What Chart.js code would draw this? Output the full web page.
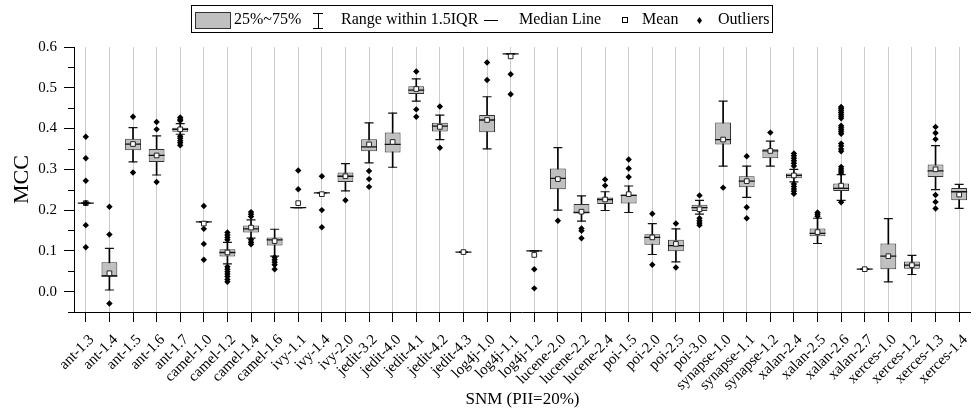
<!DOCTYPE html>
<html>
<head>
<meta charset="utf-8">
<title>MCC box plot</title>
<script src="https://cdn.jsdelivr.net/npm/chart.js@4.4.1/dist/chart.umd.min.js"></script>
<style>
  html, body { margin: 0; padding: 0; background: #fff; overflow: hidden; }
  #wrap { width: 981px; height: 408px; position: relative; }
</style>
</head>
<body>
<div id="wrap"><canvas id="boxChart"></canvas></div>
<script>
const projects = ['ant-1.3', 'ant-1.4', 'ant-1.5', 'ant-1.6', 'ant-1.7', 'camel-1.0', 'camel-1.2', 'camel-1.4', 'camel-1.6',
  'ivy-1.1', 'ivy-1.4', 'ivy-2.0', 'jedit-3.2', 'jedit-4.0', 'jedit-4.1', 'jedit-4.2', 'jedit-4.3',
  'log4j-1.0', 'log4j-1.1', 'log4j-1.2', 'lucene-2.0', 'lucene-2.2', 'lucene-2.4',
  'poi-1.5', 'poi-2.0', 'poi-2.5', 'poi-3.0', 'synapse-1.0', 'synapse-1.1', 'synapse-1.2',
  'xalan-2.4', 'xalan-2.5', 'xalan-2.6', 'xalan-2.7', 'xerces-1.0', 'xerces-1.2', 'xerces-1.3', 'xerces-1.4'];

const whiskerLow = [0.217, 0.004, 0.318, 0.286, 0.386, 0.171, 0.068, 0.131, 0.087,
  0.206, 0.242, 0.247, 0.316, 0.305, 0.467, 0.373, 0.097,
  0.350, 0.583, 0.100, 0.200, 0.173, 0.199,
  0.194, 0.091, 0.073, 0.190, 0.308, 0.231, 0.308,
  0.269, 0.118, 0.224, 0.055, 0.024, 0.042, 0.250, 0.204];
const q1 = [0.217, 0.038, 0.347, 0.318, 0.392, 0.171, 0.086, 0.145, 0.113,
  0.206, 0.242, 0.269, 0.344, 0.341, 0.485, 0.393, 0.097,
  0.391, 0.583, 0.100, 0.251, 0.193, 0.215,
  0.216, 0.115, 0.099, 0.198, 0.361, 0.256, 0.327,
  0.278, 0.136, 0.247, 0.055, 0.055, 0.056, 0.281, 0.224];
const median = [0.217, 0.038, 0.362, 0.334, 0.398, 0.171, 0.096, 0.154, 0.127,
  0.206, 0.242, 0.283, 0.355, 0.361, 0.494, 0.406, 0.097,
  0.421, 0.583, 0.100, 0.278, 0.194, 0.226,
  0.236, 0.133, 0.113, 0.206, 0.373, 0.271, 0.345,
  0.285, 0.143, 0.253, 0.055, 0.087, 0.065, 0.296, 0.245];
const q3 = [0.217, 0.072, 0.375, 0.350, 0.402, 0.171, 0.104, 0.162, 0.133,
  0.206, 0.242, 0.292, 0.374, 0.390, 0.504, 0.414, 0.097,
  0.433, 0.583, 0.100, 0.302, 0.215, 0.231,
  0.238, 0.141, 0.127, 0.213, 0.415, 0.283, 0.349,
  0.290, 0.155, 0.265, 0.055, 0.118, 0.074, 0.312, 0.254];
const whiskerHigh = [0.217, 0.106, 0.402, 0.382, 0.412, 0.171, 0.121, 0.176, 0.153,
  0.206, 0.242, 0.314, 0.414, 0.438, 0.522, 0.433, 0.097,
  0.478, 0.583, 0.100, 0.353, 0.235, 0.245,
  0.259, 0.167, 0.154, 0.224, 0.467, 0.308, 0.369,
  0.300, 0.180, 0.287, 0.055, 0.179, 0.089, 0.358, 0.263];
const means = [0.217, 0.045, 0.362, 0.334, 0.398, 0.167, 0.096, 0.157, 0.124,
  0.217, 0.239, 0.283, 0.361, 0.367, 0.497, 0.404, 0.097,
  0.421, 0.577, 0.090, 0.276, 0.196, 0.226,
  0.239, 0.133, 0.117, 0.202, 0.373, 0.271, 0.345,
  0.285, 0.146, 0.260, 0.055, 0.087, 0.065, 0.300, 0.238];
const outliers = [
  [0.380, 0.327, 0.272, 0.217, 0.163, 0.109],
  [0.208, 0.140, -0.029],
  [0.429, 0.292],
  [0.416, 0.398, 0.269],
  [0.427, 0.423, 0.419, 0.381, 0.376, 0.370, 0.365, 0.359],
  [0.210, 0.154, 0.117, 0.078],
  [0.145, 0.139, 0.133, 0.127, 0.061, 0.055, 0.049, 0.043, 0.037, 0.030, 0.024],
  [0.195, 0.190, 0.184, 0.127, 0.121, 0.116],
  [0.084, 0.078, 0.072, 0.066, 0.055],
  [0.297, 0.251],
  [0.283, 0.200, 0.158],
  [0.224],
  [0.296, 0.276, 0.257],
  [],
  [0.540, 0.447, 0.429],
  [0.454, 0.353],
  [],
  [0.562, 0.519],
  [0.533, 0.484],
  [0.055, 0.008],
  [0.174],
  [0.155, 0.149, 0.131],
  [0.275, 0.260],
  [0.324, 0.302, 0.281],
  [0.191, 0.066],
  [0.167, 0.059],
  [0.236, 0.180, 0.174, 0.168, 0.163],
  [0.255],
  [0.332, 0.207, 0.180],
  [0.390],
  [0.339, 0.333, 0.327, 0.321, 0.315, 0.308, 0.264, 0.258, 0.252, 0.246, 0.240],
  [0.194, 0.190, 0.185],
  [0.453, 0.449, 0.445, 0.440, 0.435, 0.430, 0.425, 0.407, 0.402, 0.397, 0.392, 0.387,
   0.363, 0.357, 0.350, 0.344, 0.306, 0.301, 0.296, 0.291, 0.219],
  [],
  [],
  [],
  [0.404, 0.389, 0.374, 0.237, 0.220, 0.204],
  []
];
const minorTicks = [-0.05, 0.05, 0.15, 0.25, 0.35, 0.45, 0.55];

const serif = "'Liberation Serif', 'Times New Roman', serif";
Chart.defaults.font.family = serif;
Chart.defaults.color = '#000';

const boxes = projects.map((p, i) => [q1[i], q3[i]]);
const stems = projects.map((p, i) => [whiskerLow[i], whiskerHigh[i]]);
const pts = arr => projects.map((p, i) => ({ x: p, y: arr[i] }));
const outlierPts = [];
outliers.forEach((list, i) => list.forEach(v => outlierPts.push({ x: projects[i], y: v })));

const isMajor = v => Math.round(v * 100) % 10 === 0;

// legend frame + minor y ticks
const extras = {
  id: 'extras',
  afterDraw(chart) {
    const ctx = chart.ctx;
    const y = chart.scales.y;
    ctx.save();
    ctx.strokeStyle = '#000';
    ctx.lineWidth = 1;
    minorTicks.forEach(v => {
      const py = Math.round(y.getPixelForValue(v)) + 0.5;
      ctx.beginPath();
      ctx.moveTo(y.right - 6, py);
      ctx.lineTo(y.right, py);
      ctx.stroke();
    });

    // legend
    ctx.strokeRect(191.5, 5.5, 581, 27);
    ctx.fillStyle = '#c0c0c0';
    ctx.fillRect(195, 12, 35, 16);
    ctx.strokeStyle = '#333';
    ctx.strokeRect(195.5, 12.5, 35, 16);
    ctx.strokeStyle = '#000';
    ctx.beginPath();
    ctx.moveTo(313, 13.5); ctx.lineTo(323, 13.5);
    ctx.moveTo(318.5, 13.5); ctx.lineTo(318.5, 28.5);
    ctx.moveTo(313, 28.5); ctx.lineTo(323, 28.5);
    ctx.moveTo(484, 20.5); ctx.lineTo(498, 20.5);
    ctx.stroke();
    ctx.fillStyle = '#fff';
    ctx.fillRect(623, 18, 4, 4);
    ctx.strokeRect(622.5, 17.5, 5, 5);
    ctx.fillStyle = '#000';
    ctx.beginPath();
    ctx.moveTo(699.5, 17); ctx.lineTo(702, 20.5); ctx.lineTo(699.5, 24); ctx.lineTo(697, 20.5);
    ctx.closePath();
    ctx.fill();
    ctx.font = '16px ' + serif;
    ctx.textBaseline = 'middle';
    ctx.fillText('25%~75%', 234, 20);
    ctx.fillText('Range within 1.5IQR', 341, 20);
    ctx.fillText('Median Line', 519, 20);
    ctx.fillText('Mean', 642, 20);
    ctx.fillText('Outliers', 718, 20);
    ctx.restore();
  }
};

new Chart(document.getElementById('boxChart').getContext('2d'), {
  type: 'bar',
  data: {
    labels: projects,
    datasets: [
      {
        label: 'Range within 1.5IQR',
        data: stems,
        backgroundColor: '#000',
        borderWidth: 0,
        barThickness: 1,
        grouped: false,
        order: 6
      },
      {
        label: '25%~75%',
        data: boxes,
        backgroundColor: '#c0c0c0',
        borderColor: '#333',
        borderWidth: 1,
        borderSkipped: false,
        barPercentage: 0.67,
        categoryPercentage: 1,
        grouped: false,
        order: 5
      },
      {
        type: 'line',
        label: 'Median Line',
        data: pts(median),
        showLine: false,
        pointStyle: 'line',
        pointRadius: 8,
        pointBorderWidth: 1.3,
        pointBorderColor: '#111',
        order: 4
      },
      {
        type: 'line',
        label: 'whisker caps',
        data: pts(whiskerLow).concat(pts(whiskerHigh)),
        showLine: false,
        pointStyle: 'line',
        pointRadius: 4.5,
        pointBorderWidth: 1.2,
        pointBorderColor: '#111',
        order: 3
      },
      {
        type: 'line',
        label: 'Mean',
        data: pts(means),
        showLine: false,
        pointStyle: 'rect',
        pointRadius: 3.3,
        pointBackgroundColor: '#fff',
        pointBorderColor: '#222',
        pointBorderWidth: 1,
        order: 2
      },
      {
        type: 'line',
        label: 'Outliers',
        data: outlierPts,
        showLine: false,
        pointStyle: 'rectRot',
        pointRadius: 3.2,
        pointBackgroundColor: '#000',
        pointBorderColor: '#000',
        pointBorderWidth: 0,
        order: 1
      }
    ]
  },
  options: {
    responsive: true,
    maintainAspectRatio: false,
    animation: false,
    events: [],
    layout: { padding: { top: 47, right: 0, left: 0, bottom: 0 } },
    plugins: {
      legend: { display: false },
      tooltip: { enabled: false }
    },
    scales: {
      x: {
        offset: true,
        grid: { offset: false, color: '#cccccc', tickColor: '#000', tickLength: 10, lineWidth: 1 },
        border: { color: '#000', width: 1 },
        ticks: {
          autoSkip: false, maxRotation: 45, minRotation: 45,
          font: { size: 15 }, padding: 9, labelOffset: 6
        },
        title: { display: true, text: 'SNM (PII=20%)', font: { size: 17, lineHeight: 1 }, padding: { top: 0, bottom: 0 } },
        afterFit: s => { s.height = 96; }
      },
      y: {
        min: -0.05,
        max: 0.6,
        grid: {
          drawOnChartArea: false, tickLength: 10,
          tickColor: c => (isMajor(c.tick.value) ? '#000' : 'rgba(0,0,0,0)')
        },
        border: { color: '#000', width: 1 },
        ticks: {
          stepSize: 0.05,
          autoSkip: false,
          includeBounds: false,
          padding: 7,
          font: { size: 15 },
          callback: v => (isMajor(v) ? (Math.round(v * 100) / 100).toFixed(1) : '')
        },
        title: { display: true, text: 'MCC', font: { size: 22, lineHeight: 1 }, padding: { top: 11, bottom: 0 } },
        afterFit: s => { s.width = 74; }
      }
    }
  },
  plugins: [extras]
});
</script>
</body>
</html>
